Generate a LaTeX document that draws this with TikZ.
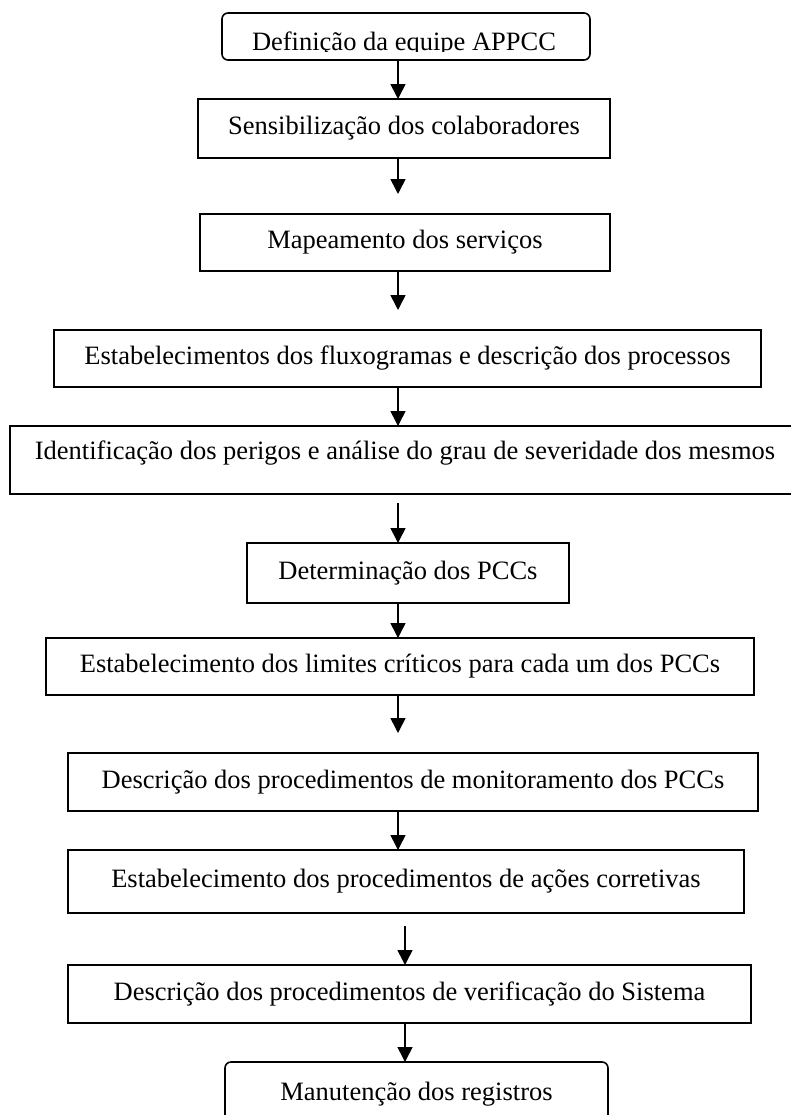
\documentclass[tikz,border=0pt]{standalone}
\usepackage{fontspec}
\setmainfont{Liberation Serif}
\usetikzlibrary{arrows.meta}
\tikzset{
  box/.style={draw, line width=1.6bp, rectangle, inner sep=0pt, outer sep=0pt,
    font=\fontsize{26.5bp}{30bp}\selectfont},
  rbox/.style={box, rounded corners=6bp},
  txt/.style={inner sep=0pt, font=\fontsize{26.5bp}{30bp}\selectfont},
  arr/.style={line width=1.6bp, -{Triangle[width=15bp,length=15bp]}},
}
\begin{document}
\begin{tikzpicture}[x=1bp,y=-1bp]
\useasboundingbox (0,0) rectangle (791,1115);
\coordinate (A) at (398,0);
\coordinate (B) at (405,0);
% boxes
\node[rbox, minimum width=368bp, minimum height=47bp] (b1) at (406,36.5) {};
\begin{scope}
  \clip (222,13) rectangle (590,51);
  \node[txt, anchor=base] (t1) at (404,50) {Definição da equipe APPCC};
\end{scope}
\node[box, minimum width=412bp, minimum height=59bp] (b2) at (404,128.5) {Sensibilização dos colaboradores};
\node[box, minimum width=410bp, minimum height=57bp] (b3) at (405,242.5) {Mapeamento dos serviços};
\node[box, minimum width=707bp, minimum height=57bp] (b4) at (407.5,358.5) {Estabelecimentos dos fluxogramas e descrição dos processos};
\node[box, minimum width=790bp, minimum height=68bp, text height=18bp, text depth=20bp] (b5) at (405,460) {Identificação dos perigos e análise do grau de severidade dos mesmos};
\node[box, minimum width=322bp, minimum height=60bp] (b6) at (408,573) {Determinação dos PCCs};
\node[box, minimum width=708bp, minimum height=57bp] (b7) at (400,666.5) {Estabelecimento dos limites críticos para cada um dos PCCs};
\node[box, minimum width=690bp, minimum height=58bp] (b8) at (413,782) {Descrição dos procedimentos de monitoramento dos PCCs};
\node[box, minimum width=676bp, minimum height=63bp] (b9) at (406,881.5) {Estabelecimento dos procedimentos de ações corretivas};
\node[box, minimum width=683bp, minimum height=58bp] (b10) at (409.5,994) {Descrição dos procedimentos de verificação do Sistema};
\node[rbox, minimum width=383bp, minimum height=64bp] (b11) at (416.5,1094) {Manutenção dos registros};
% arrows
\draw[arr] (b1.south -| A) -- (b2.north -| A);
\draw[arr, shorten >=20bp] (b2.south -| A) -- (b3.north -| A);
\draw[arr, shorten >=20bp] (b3.south -| A) -- (b4.north -| A);
\draw[arr] (b4.south -| A) -- (b5.north -| A);
\draw[arr, shorten <=9bp] (b5.south -| A) -- (b6.north -| A);
\draw[arr] (b6.south -| A) -- (b7.north -| A);
\draw[arr, shorten >=20bp] (b7.south -| A) -- (b8.north -| A);
\draw[arr] (b8.south -| A) -- (b9.north -| A);
\draw[arr, shorten <=13bp] (b9.south -| B) -- (b10.north -| B);
\draw[arr] (b10.south -| B) -- (b11.north -| B);
\end{tikzpicture}
\end{document}
